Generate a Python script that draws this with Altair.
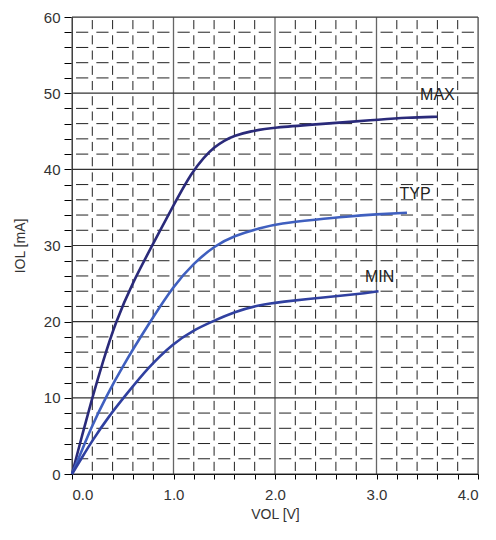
import altair as alt
import pandas as pd

# ---- data ----
max_x = [0.0, 0.1, 0.2, 0.3, 0.43, 0.6, 0.79, 1.0, 1.18, 1.3, 1.4, 1.5, 1.6, 1.75, 2.0, 2.4, 2.8, 3.0, 3.3, 3.6]
max_y = [0.0, 5.1, 10.0, 14.6, 20.0, 25.2, 30.0, 35.3, 39.6, 41.6, 42.9, 43.8, 44.4, 45.0, 45.5, 45.9, 46.3, 46.5, 46.8, 46.9]

typ_x = [0.0, 0.1, 0.2, 0.33, 0.5, 0.77, 1.0, 1.2, 1.41, 1.6, 1.85, 2.05, 2.4, 2.7, 3.0, 3.3]
typ_y = [0.0, 3.2, 6.4, 10.0, 14.2, 20.0, 24.7, 27.7, 30.0, 31.3, 32.3, 32.9, 33.4, 33.8, 34.1, 34.3]

min_x = [0.0, 0.1, 0.2, 0.37, 0.52, 0.75, 1.0, 1.2, 1.38, 1.6, 1.85, 2.05, 2.5, 2.8, 3.02]
min_y = [0.0, 2.2, 4.4, 7.7, 10.2, 14.0, 17.2, 18.9, 20.0, 21.3, 22.2, 22.6, 23.2, 23.6, 24.0]

series_names = ["MAX", "TYP", "MIN"]
series_colors = ["#2a2a7a", "#3f5fbf", "#3040a0"]

label_x = [3.6, 3.38, 3.03]
label_y = [49.7, 36.7, 25.8]

x_major = [0.0, 1.0, 2.0, 3.0, 4.0]
y_major = [0, 10, 20, 30, 40, 50, 60]
x_minor = [round(i * 0.2, 1) for i in range(1, 20) if i % 5 != 0]
y_minor = [i * 2 for i in range(1, 30) if i % 5 != 0]
x_ticks = [round(i * 0.2, 1) for i in range(0, 21)]
y_ticks = [i * 2 for i in range(0, 31)]

# ---- tables ----
rows = []
for name, xs, ys in [("MAX", max_x, max_y), ("TYP", typ_x, typ_y), ("MIN", min_x, min_y)]:
    for i, (a, b) in enumerate(zip(xs, ys)):
        rows.append({"series": name, "x": a, "y": b, "i": i})
curves = pd.DataFrame(rows)
labels = pd.DataFrame({"label": series_names, "x": label_x, "y": label_y})

W, H = 406, 457
FONT = "Liberation Sans"

xscale = alt.Scale(domain=[0, 4], nice=False)
yscale = alt.Scale(domain=[0, 60], nice=False)

common = dict(labelFont=FONT, titleFont=FONT, labelFontSize=15, titleFontSize=14,
              labelColor="#333", titleColor="#333", titleFontWeight="normal",
              domainColor="black", tickColor="black", grid=False)

xax = alt.Axis(values=x_ticks, labelExpr="datum.value % 1 == 0 ? format(datum.value, '.1f') : ''",
               title="VOL [V]", tickSize=5, labelPadding=8, titlePadding=5, **common)
yax = alt.Axis(values=y_ticks, labelExpr="datum.value % 10 == 0 ? format(datum.value, 'd') : ''",
               title="IOL [mA]", tickSize=8, labelPadding=4, titlePadding=16, **common)

cw = W / 20.0
ch = H / 30.0

vminor = alt.Chart(pd.DataFrame({"v": x_minor})).mark_rule(
    color="#222", strokeWidth=1, strokeDash=[ch * 0.6, ch * 0.4], strokeDashOffset=ch * 0.8
).encode(x=alt.X("v:Q", scale=xscale, axis=xax))

hminor = alt.Chart(pd.DataFrame({"v": y_minor})).mark_rule(
    color="#222", strokeWidth=1, strokeDash=[cw * 0.6, cw * 0.4], strokeDashOffset=cw * 0.8
).encode(y=alt.Y("v:Q", scale=yscale, axis=yax))

vmajor = alt.Chart(pd.DataFrame({"v": x_major})).mark_rule(color="#666", strokeWidth=1.3).encode(
    x=alt.X("v:Q", scale=xscale, axis=xax))
hmajor = alt.Chart(pd.DataFrame({"v": y_major})).mark_rule(color="#333", strokeWidth=1.2).encode(
    y=alt.Y("v:Q", scale=yscale, axis=yax))

lines = alt.Chart(curves).mark_line(strokeWidth=2.6, interpolate="basis").encode(
    x=alt.X("x:Q", scale=xscale, axis=xax),
    y=alt.Y("y:Q", scale=yscale, axis=yax),
    color=alt.Color("series:N", scale=alt.Scale(domain=series_names, range=series_colors), legend=None),
    order="i:Q",
)

texts = alt.Chart(labels).mark_text(font=FONT, fontSize=16, color="#222").encode(
    x=alt.X("x:Q", scale=xscale, axis=xax),
    y=alt.Y("y:Q", scale=yscale, axis=yax),
    text="label:N",
)

chart = alt.layer(vminor, hminor, vmajor, hmajor, lines, texts).properties(
    width=W, height=H,
    autosize=alt.AutoSizeParams(type="none"),
    padding={"left": 64, "top": 9, "right": 10, "bottom": 58},
    background="white",
).configure_view(stroke="#999", strokeWidth=1)

chart.save("out.html", embed_options={"renderer": "svg", "actions": False})
